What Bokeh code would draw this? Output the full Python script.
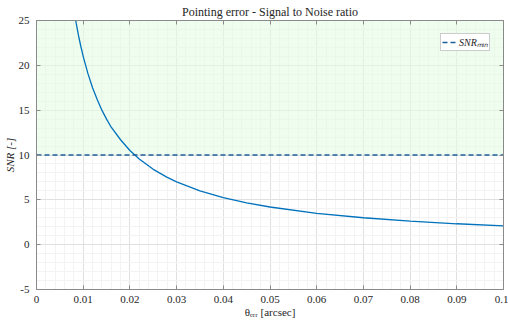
from bokeh.plotting import figure
from bokeh.models import (Range1d, LinearAxis, BoxAnnotation, Legend, LegendItem,
                          FixedTicker)
from bokeh.embed import file_html
from bokeh.resources import INLINE

# ---- data ----
theta_err = [0.0080, 0.0085, 0.0090, 0.0095, 0.0100, 0.0110, 0.0120, 0.0130, 0.0140,
             0.0150, 0.0160, 0.0180, 0.0200, 0.0220, 0.0250, 0.0280, 0.0300, 0.0350,
             0.0400, 0.0450, 0.0500, 0.0600, 0.0700, 0.0800, 0.0900, 0.1000]
snr = [26.25, 24.7, 23.3, 22.1, 21.0, 19.1, 17.5, 16.2, 15.0,
       14.0, 13.1, 11.7, 10.5, 9.55, 8.4, 7.5, 7.0, 6.0,
       5.25, 4.67, 4.2, 3.5, 3.0, 2.63, 2.33, 2.1]
SNR_MIN = 10
X_MIN, X_MAX = 0.0, 0.1
Y_MIN, Y_MAX = -5, 25
x_ticks = [0, 0.01, 0.02, 0.03, 0.04, 0.05, 0.06, 0.07, 0.08, 0.09, 0.1]
x_tick_labels = ["0", "0.01", "0.02", "0.03", "0.04", "0.05", "0.06", "0.07", "0.08", "0.09", "0.1"]
y_ticks = [-5, 0, 5, 10, 15, 20, 25]
y_tick_labels = ["-5", "0", "5", "10", "15", "20", "25"]
x_minor = [i * 0.002 for i in range(51)]
y_minor = list(range(-5, 26))
title_text = "Pointing error - Signal to Noise ratio"
x_label = "θₑᵣᵣ [arcsec]"
y_label = "SNR [-]"
legend_label = "SNRₘᵢₙ"

FONT = "Liberation Serif"
AX = "#8a8a8a"
TXT = "#262626"

p = figure(width=508, height=320, output_backend="svg", toolbar_location=None,
           x_range=Range1d(X_MIN, X_MAX), y_range=Range1d(Y_MIN, Y_MAX),
           min_border_left=30, min_border_right=5, min_border_top=18, min_border_bottom=26)
p.outline_line_color = None
p.background_fill_color = "white"

# title
p.title.text = title_text
p.title.align = "center"
p.title.text_font = FONT
p.title.text_font_style = "normal"
p.title.text_font_size = "12px"
p.title.text_color = TXT
p.title.standoff = 4

# axes
xb = p.xaxis[0]
yl = p.yaxis[0]
xb.ticker = FixedTicker(ticks=x_ticks, minor_ticks=x_minor)
yl.ticker = FixedTicker(ticks=y_ticks, minor_ticks=y_minor)
xb.major_label_overrides = {t: l for t, l in zip(x_ticks, x_tick_labels)}
yl.major_label_overrides = {t: l for t, l in zip(y_ticks, y_tick_labels)}
xt = LinearAxis(ticker=FixedTicker(ticks=x_ticks))
yr = LinearAxis(ticker=FixedTicker(ticks=y_ticks))
for ax in (xb, yl, xt, yr):
    ax.axis_line_color = AX
    ax.major_tick_line_color = AX
    ax.major_tick_in = 4
    ax.major_tick_out = 0
    ax.minor_tick_line_color = None
    ax.major_label_text_font = FONT
    ax.major_label_text_font_size = "11px"
    ax.major_label_text_color = TXT
for ax in (xt, yr):
    ax.major_label_text_alpha = 0
    ax.major_label_text_font_size = "1px"
    ax.major_label_standoff = 0
xb.major_label_standoff = 2
yl.major_label_standoff = 3
p.add_layout(xt, "above")
p.add_layout(yr, "right")

xb.axis_label = x_label
xb.axis_label_text_font = FONT
xb.axis_label_text_font_style = "normal"
xb.axis_label_text_font_size = "11px"
xb.axis_label_text_color = TXT
xb.axis_label_standoff = 0
yl.axis_label = y_label
yl.axis_label_text_font = FONT
yl.axis_label_text_font_style = "italic"
yl.axis_label_text_font_size = "11px"
yl.axis_label_text_color = TXT
yl.axis_label_standoff = 0

# grids
p.xgrid.ticker = FixedTicker(ticks=x_ticks, minor_ticks=x_minor)
p.ygrid.ticker = FixedTicker(ticks=y_ticks, minor_ticks=y_minor)
for g in (p.xgrid, p.ygrid):
    g.grid_line_color = "#e0e0e0"
    g.minor_grid_line_color = "#f3f3f3"
    g.grid_line_alpha = 1
    g.level = "underlay"

# green region above SNR_min
p.add_layout(BoxAnnotation(bottom=SNR_MIN, fill_color="#e3fbe3", fill_alpha=0.6,
                           line_color=None, level="underlay"))

# curve
p.line(theta_err, snr, line_color="#0072BD", line_width=1.3)

# SNR_min line
dash = p.line([X_MIN, X_MAX], [SNR_MIN, SNR_MIN], line_color="#1f5f95",
              line_width=1.3, line_dash="5 3")

legend = Legend(items=[LegendItem(label=legend_label, renderers=[dash])],
                location=(404, 238), margin=0, padding=1, spacing=0,
                glyph_width=14, glyph_height=8, label_standoff=3,
                label_text_font=FONT, label_text_font_style="italic",
                label_text_font_size="10px", label_text_color=TXT,
                label_height=8, border_line_color="#999999", border_line_width=1,
                background_fill_color="white", background_fill_alpha=1)
p.add_layout(legend)

open("out.html", "w").write(file_html(p, INLINE))
